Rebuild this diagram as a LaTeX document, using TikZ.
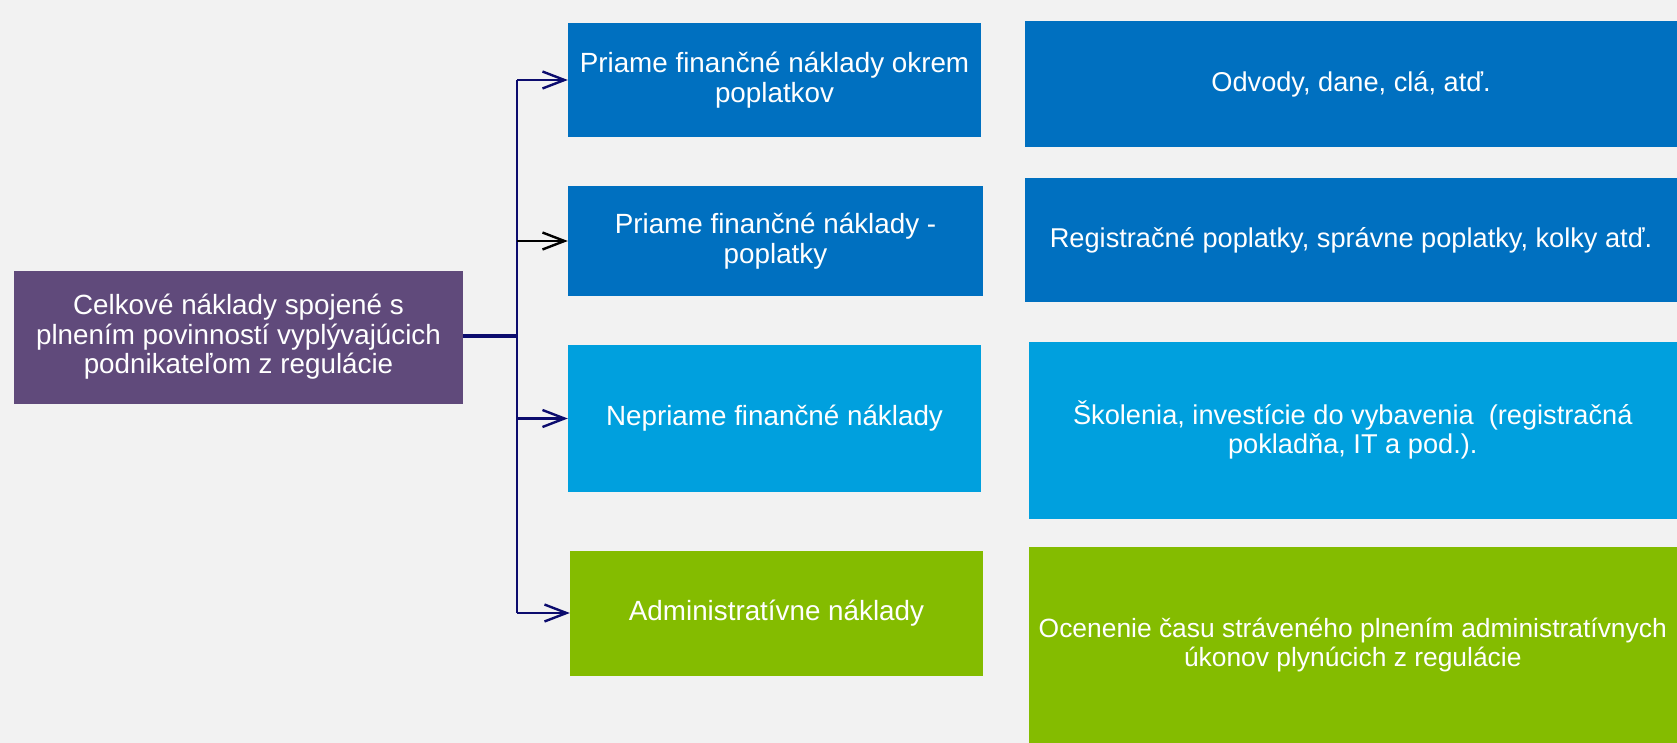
\documentclass[tikz,border=0pt]{standalone}
\usepackage{fontspec}
\setmainfont{Liberation Sans}
\usetikzlibrary{arrows.meta}
\definecolor{bg}{HTML}{F2F2F2}
\definecolor{purp}{HTML}{604A7B}
\definecolor{dblue}{HTML}{0070C0}
\definecolor{lblue}{HTML}{00A0DE}
\definecolor{grn}{HTML}{84BC00}
\definecolor{navy}{RGB}{12,12,110}
\tikzset{
  box/.style={draw=none, inner sep=0pt, text=white, align=center,
    font=\fontsize{27.8}{29.5}\selectfont},
  rbox/.style={box, font=\fontsize{27.2}{29}\selectfont},
  conn/.style={draw=navy, line width=2.4pt},
  arr/.style={conn, -{Straight Barb[length=22pt,width=17pt]}},
}
\begin{document}
\begin{tikzpicture}[x=1pt,y=-1pt]
\fill[bg] (0,0) rectangle (1677,743);
\useasboundingbox (0,0) rectangle (1677,743);
\begin{scope}
\clip (0,0) rectangle (1677,743);
\node[box, fill=purp, minimum width=449pt, minimum height=133pt] (L) at (238.5,337)
  {Celkové náklady spojené s\\plnením povinností vyplývajúcich\\podnikateľom z regulácie};
\node[box, fill=dblue, minimum width=413pt, minimum height=114pt] (A1) at (774.5,80)
  {Priame finančné náklady okrem\\poplatkov};
\node[box, fill=dblue, minimum width=415pt, minimum height=110pt] (A2) at (775.5,241)
  {Priame finančné náklady -\\poplatky};
\node[box, fill=lblue, minimum width=413pt, minimum height=147pt] (A3) at (774.5,418.5)
  {Nepriame finančné náklady};
\node[box, fill=grn, minimum width=413pt, minimum height=125pt] (A4) at (776.5,613)
  {Administratívne náklady};
\node[rbox, fill=dblue, minimum width=652pt, minimum height=126pt] (B1) at (1351,84.5)
  {Odvody, dane, clá, atď.};
\node[rbox, fill=dblue, minimum width=652pt, minimum height=124pt] (B2) at (1351,240)
  {Registračné poplatky, správne poplatky, kolky atď.};
\node[rbox, fill=lblue, minimum width=648.5pt, minimum height=176.5pt] (B3) at (1352.75,430.25)
  {Školenia, investície do vybavenia~ (registračná\\pokladňa, IT a pod.).};
\node[rbox, fill=grn, minimum width=648.5pt, minimum height=196.5pt,
  font=\fontsize{26.4}{29}\selectfont] (B4) at (1352.75,644.75)
  {Ocenenie času stráveného plnením administratívnych\\úkonov plynúcich z regulácie};
\end{scope}
\coordinate (J) at (517,336);
\draw[conn, line width=3.2pt] (L.east |- J) -- (J);
\draw[conn] (J) -- (J |- A1.west);
\draw[conn] (J) -- (J |- A4.west);
\draw[arr] (J |- A1.west) -- (A1.west);
\draw[arr, draw=black] (J |- A2.west) -- (A2.west);
\draw[arr] (J |- A3.west) -- (A3.west);
\draw[arr] (J |- A4.west) -- (A4.west);
\end{tikzpicture}
\end{document}
